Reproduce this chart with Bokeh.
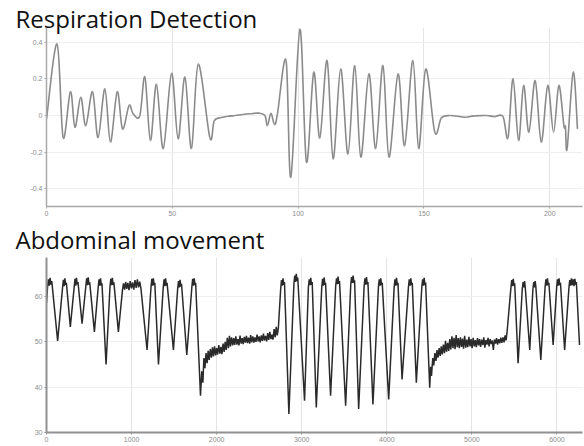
from bokeh.plotting import figure
from bokeh.layouts import column
from bokeh.models import ColumnDataSource, FixedTicker, Range1d
from bokeh.embed import file_html
from bokeh.resources import INLINE

# ---------------- data ----------------
resp_title = "Respiration Detection"
abd_title = "Abdominal movement"

resp_t = [0, 4.2, 6.6, 9.5, 11.3, 13.6, 15.6, 18.3, 20.5, 23.2, 25.4, 28.1, 30.2, 32.8, 34.4,
          37.1, 39.1, 41.3, 43.7, 46.4, 49.7, 52.3, 55.0, 57.6, 60.3, 64.9, 66.6, 69.0, 72.0,
          75.0, 78.0, 81.0, 84.5, 86.8, 87.8, 89.2, 90.6, 91.8, 95.2, 97.1, 100.7, 103.3,
          106.2, 108.6, 111.5, 113.9, 116.9, 119.8, 122.5, 124.9, 128.1, 130.8, 133.7, 136.1,
          139.7, 142.3, 145.6, 147.9, 150.7, 154.3, 156.9, 160.2, 163.5, 166.8, 170.0, 174.8,
          178.0, 181.4, 183.4, 185.4, 187.6, 189.6, 191.7, 194.2, 196.6, 199.2, 201.5, 203.6,
          205.6, 206.2, 206.9, 209.3, 211.0]
resp_v = [-0.02, 0.39, -0.12, 0.13, -0.064, 0.10, -0.055, 0.13, -0.12, 0.145, -0.145, 0.13,
          -0.073, 0.055, 0.01, 0.0, 0.21, -0.136, 0.17, -0.18, 0.23, -0.127, 0.21, -0.18, 0.28,
          -0.12, -0.03, -0.012, -0.004, 0.0, 0.006, 0.01, 0.013, 0.0, -0.055, 0.012, -0.05,
          0.01, 0.30, -0.336, 0.47, -0.254, 0.236, -0.122, 0.30, -0.236, 0.254, -0.21, 0.273,
          -0.227, 0.227, -0.18, 0.273, -0.227, 0.227, -0.164, 0.30, -0.18, 0.254, -0.091,
          -0.013, 0.0, -0.004, -0.009, -0.002, 0.0, -0.006, -0.005, -0.12, 0.20, -0.136, 0.164,
          -0.091, 0.191, -0.145, 0.164, -0.091, 0.164, -0.055, -0.06, -0.18, 0.236, -0.073]

resp_xticks = [0, 50, 100, 150, 200]
resp_yticks = [-0.4, -0.2, 0, 0.2, 0.4]
resp_ylabels = ["-0.4", "-0.2", "0", "0.2", "0.4"]

abd_seg_a = [(0, 58.5), (12, 62.0), (22, 63.8), (32, 62.4), (42, 64.1), (52, 62.6), (62, 63.4),
             (131, 50.2), (188, 61.8), (198, 63.7), (207, 62.3), (216, 64.0), (226, 62.6), (234, 63.0),
             (280, 53.3), (325, 62.0), (335, 63.9), (344, 62.4), (352, 64.1), (362, 62.7), (370, 63.2),
             (418, 54.0), (462, 62.2), (472, 64.0), (481, 62.5), (490, 64.2), (500, 62.6), (508, 63.1),
             (563, 52.2), (607, 61.9), (617, 63.8), (626, 62.4), (635, 64.0), (644, 62.5), (652, 62.9),
             (700, 45.0), (746, 62.1), (756, 63.9), (765, 62.5), (774, 64.1), (783, 62.6), (792, 63.1),
             (845, 52.2), (893, 61.4), (905, 62.9), (918, 61.5), (930, 63.2), (943, 61.7), (956, 63.0),
             (970, 61.4), (984, 63.4), (998, 61.8), (1012, 63.1), (1026, 61.5), (1040, 63.6),
             (1054, 61.9), (1068, 63.8), (1082, 62.0), (1096, 63.3), (1110, 61.8),
             (1182, 48.2), (1228, 62.0), (1238, 63.9), (1247, 62.4), (1256, 64.0), (1265, 62.5), (1273, 63.0),
             (1316, 45.0), (1372, 62.0), (1382, 63.8), (1391, 62.3), (1400, 64.0), (1409, 62.4), (1417, 63.0),
             (1492, 48.2), (1542, 61.8), (1552, 63.4), (1561, 62.0), (1570, 63.7), (1579, 62.2), (1587, 62.8),
             (1649, 47.1), (1708, 62.0), (1718, 63.9), (1727, 62.4), (1736, 64.0), (1745, 62.5), (1753, 63.0),
             (1810, 38.1)]

abd_seg_b = [(1825, 43.5), (1838, 41.0), (1850, 46.4), (1862, 44.2), (1875, 47.5), (1888, 45.3),
             (1900, 48.0), (1912, 46.0), (1925, 48.4), (1938, 46.5), (1950, 48.8), (1962, 46.8),
             (1975, 49.0), (1988, 47.0), (2000, 48.6), (2012, 47.2), (2025, 49.3), (2038, 47.4),
             (2050, 48.9), (2062, 47.3), (2075, 49.6), (2088, 47.8), (2100, 50.0), (2112, 48.2),
             (2125, 50.9), (2138, 48.6), (2150, 51.3), (2162, 49.0), (2175, 51.0), (2188, 49.2),
             (2200, 50.8), (2212, 49.3), (2225, 51.2), (2238, 49.4), (2250, 50.6), (2262, 49.2),
             (2275, 51.4), (2288, 49.6), (2300, 50.8), (2312, 49.5), (2325, 51.1), (2338, 49.8),
             (2350, 51.3), (2362, 49.7), (2375, 50.9), (2388, 49.6), (2400, 51.5), (2412, 49.9),
             (2425, 51.2), (2438, 49.8), (2450, 51.0), (2462, 50.0), (2475, 51.6), (2488, 50.1),
             (2500, 51.2), (2512, 49.9), (2525, 51.4), (2538, 50.2), (2550, 51.8), (2562, 50.3),
             (2575, 51.3), (2588, 50.1), (2600, 51.9), (2612, 50.4), (2625, 52.2), (2638, 50.6),
             (2650, 51.6), (2662, 50.5), (2675, 52.8), (2688, 51.0), (2700, 53.3), (2712, 51.4),
             (2725, 53.0)]

abd_seg_c = [(2752, 61.5), (2762, 63.6), (2771, 62.4), (2780, 64.0), (2789, 62.6), (2797, 63.2),
             (2849, 34.1), (2908, 62.8), (2918, 64.6), (2927, 63.2), (2936, 65.0), (2945, 63.4), (2953, 64.2),
             (3033, 37.0), (3078, 62.0), (3088, 63.8), (3097, 62.5), (3106, 64.1), (3115, 62.6), (3123, 63.2),
             (3171, 35.5), (3235, 62.0), (3245, 63.9), (3254, 62.4), (3263, 64.2), (3272, 62.6), (3280, 63.0),
             (3339, 38.1), (3399, 62.3), (3409, 64.0), (3418, 62.7), (3427, 64.4), (3436, 62.8), (3444, 63.4),
             (3516, 35.9), (3576, 62.6), (3586, 64.3), (3595, 63.0), (3604, 64.6), (3613, 63.0), (3621, 63.6),
             (3669, 35.2), (3733, 62.2), (3743, 64.0), (3752, 62.6), (3761, 64.3), (3770, 62.7), (3778, 63.2),
             (3837, 36.2), (3901, 62.0), (3911, 63.8), (3920, 62.4), (3929, 64.0), (3938, 62.5), (3946, 63.0),
             (4022, 37.3), (4086, 62.0), (4096, 63.8), (4105, 62.4), (4114, 64.1), (4123, 62.5), (4131, 63.0),
             (4179, 41.7), (4254, 62.0), (4264, 63.8), (4273, 62.4), (4282, 64.0), (4291, 62.5), (4299, 63.0),
             (4347, 41.0), (4411, 62.0), (4421, 63.8), (4430, 62.4), (4439, 64.1), (4448, 62.5), (4456, 63.1),
             (4504, 39.9)]

abd_seg_d = [(4515, 44.5), (4525, 42.5), (4540, 46.4), (4552, 44.8), (4565, 47.5), (4578, 45.8),
             (4590, 48.2), (4602, 46.5), (4615, 48.6), (4628, 46.9), (4640, 49.0), (4652, 47.2),
             (4665, 49.4), (4678, 47.5), (4690, 50.2), (4702, 47.8), (4715, 49.8), (4728, 48.0),
             (4740, 50.6), (4752, 48.3), (4765, 51.2), (4778, 48.6), (4790, 50.9), (4802, 48.4),
             (4815, 51.5), (4828, 48.8), (4840, 50.8), (4852, 48.6), (4865, 51.0), (4878, 48.9),
             (4890, 50.7), (4902, 48.5), (4915, 51.3), (4928, 48.7), (4940, 50.5), (4952, 48.8),
             (4965, 51.1), (4978, 49.0), (4990, 50.6), (5002, 48.6), (5015, 50.9), (5028, 49.0),
             (5040, 50.4), (5052, 48.8), (5065, 50.8), (5078, 49.2), (5090, 50.6), (5102, 48.9),
             (5115, 50.5), (5128, 49.3), (5140, 51.0), (5152, 48.7), (5165, 50.4), (5178, 49.4),
             (5190, 50.9), (5202, 49.0), (5215, 50.6), (5228, 49.5), (5240, 50.3), (5252, 48.2),
             (5265, 50.5), (5278, 49.6), (5290, 50.8), (5302, 49.4), (5315, 50.6), (5328, 49.7),
             (5340, 50.9), (5352, 49.8), (5365, 51.0), (5378, 49.9), (5390, 51.4), (5402, 50.3),
             (5415, 52.5)]

abd_seg_e = [(5458, 61.8), (5468, 63.6), (5477, 62.3), (5486, 63.9), (5495, 62.4), (5503, 62.9),
             (5543, 45.3), (5592, 61.6), (5602, 63.2), (5610, 62.0), (5619, 63.4), (5627, 62.1),
             (5680, 48.2), (5717, 61.6), (5727, 63.2), (5735, 62.0), (5744, 63.4), (5752, 62.1),
             (5810, 46.0), (5860, 62.0), (5870, 63.8), (5879, 62.4), (5888, 64.0), (5897, 62.5), (5905, 63.0),
             (5955, 49.3), (5996, 62.0), (6006, 63.8), (6015, 62.4), (6024, 64.0), (6033, 62.5), (6041, 63.0),
             (6090, 48.2), (6140, 61.8), (6150, 63.6), (6160, 62.4), (6170, 64.0), (6180, 62.5),
             (6190, 63.8), (6200, 62.3), (6210, 63.9), (6220, 62.6), (6228, 63.2), (6265, 49.3)]

abd_xticks = [0, 1000, 2000, 3000, 4000, 5000, 6000]
abd_yticks = [30, 40, 50, 60]

# ---------------- helpers ----------------
W = 584


def style_axes(p, axis_color, axis_width):
    for ax in (p.xaxis[0], p.yaxis[0]):
        ax.axis_line_color = axis_color
        ax.axis_line_width = axis_width
        ax.major_tick_line_color = axis_color
        ax.major_tick_in = 0
        ax.major_tick_out = 2
        ax.minor_tick_line_color = None
        ax.major_label_text_font = "Liberation Sans"
        ax.major_label_text_font_size = "7px"
        ax.major_label_text_color = "#8c8c8c"
        ax.major_label_standoff = 2
    p.xgrid.grid_line_color = "#e4e4e4"
    p.ygrid.grid_line_color = "#eeeeee"
    p.outline_line_color = None
    p.background_fill_color = "white"
    p.border_fill_color = "white"


def style_title(p, standoff):
    p.title.text_font = "Open Sans"
    p.title.text_font_size = "24px"
    p.title.text_font_style = "normal"
    p.title.text_color = "#111111"
    p.title.align = "left"
    p.title.offset = -31
    p.title.standoff = standoff


def smooth_segments(xs, ys):
    # Bezier control points so the library draws a smooth curve through the read points
    n = len(xs)
    seg = dict(x0=[], y0=[], x1=[], y1=[], cx0=[], cy0=[], cx1=[], cy1=[])
    for i in range(n - 1):
        xa, ya = xs[max(i - 1, 0)], ys[max(i - 1, 0)]
        xb, yb = xs[i], ys[i]
        xc, yc = xs[i + 1], ys[i + 1]
        xd, yd = xs[min(i + 2, n - 1)], ys[min(i + 2, n - 1)]
        seg["x0"].append(xb); seg["y0"].append(yb)
        seg["x1"].append(xc); seg["y1"].append(yc)
        seg["cx0"].append(xb + (xc - xa) / 6.0); seg["cy0"].append(yb + (yc - ya) / 6.0)
        seg["cx1"].append(xc - (xd - xb) / 6.0); seg["cy1"].append(yc - (yd - yb) / 6.0)
    return seg


# ---------------- top panel ----------------
p1 = figure(width=W, height=218, output_backend="svg", toolbar_location=None,
            title=resp_title,
            x_range=Range1d(0, 213), y_range=Range1d(-0.496, 0.48),
            min_border_left=46, min_border_right=2, min_border_top=27, min_border_bottom=12)
src1 = ColumnDataSource(smooth_segments(resp_t, resp_v))
p1.bezier(x0="x0", y0="y0", x1="x1", y1="y1", cx0="cx0", cy0="cy0", cx1="cx1", cy1="cy1",
          source=src1, line_color="#8a8a8a", line_width=1.6)
p1.xaxis.ticker = FixedTicker(ticks=resp_xticks)
p1.yaxis.ticker = FixedTicker(ticks=resp_yticks)
p1.yaxis.major_label_overrides = {t: s for t, s in zip(resp_yticks, resp_ylabels)}
style_axes(p1, "#a8a8a8", 1.5)
style_title(p1, -14)

# ---------------- bottom panel ----------------
abd_pts = abd_seg_a + abd_seg_b + abd_seg_c + abd_seg_d + abd_seg_e
src2 = ColumnDataSource(dict(x=[t for t, _ in abd_pts], y=[v for _, v in abd_pts]))
p2 = figure(width=W, height=228, output_backend="svg", toolbar_location=None,
            title=abd_title,
            x_range=Range1d(0, 6300), y_range=Range1d(30, 68.6),
            min_border_left=46, min_border_right=2, min_border_top=37, min_border_bottom=14)
p2.line("x", "y", source=src2, line_color="#2a2a2a", line_width=1.5)
p2.xaxis.ticker = FixedTicker(ticks=abd_xticks)
p2.yaxis.ticker = FixedTicker(ticks=abd_yticks)
style_axes(p2, "#909090", 2)
style_title(p2, 4)

layout = column(p1, p2, spacing=0)
open("out.html", "w").write(file_html(layout, INLINE))
